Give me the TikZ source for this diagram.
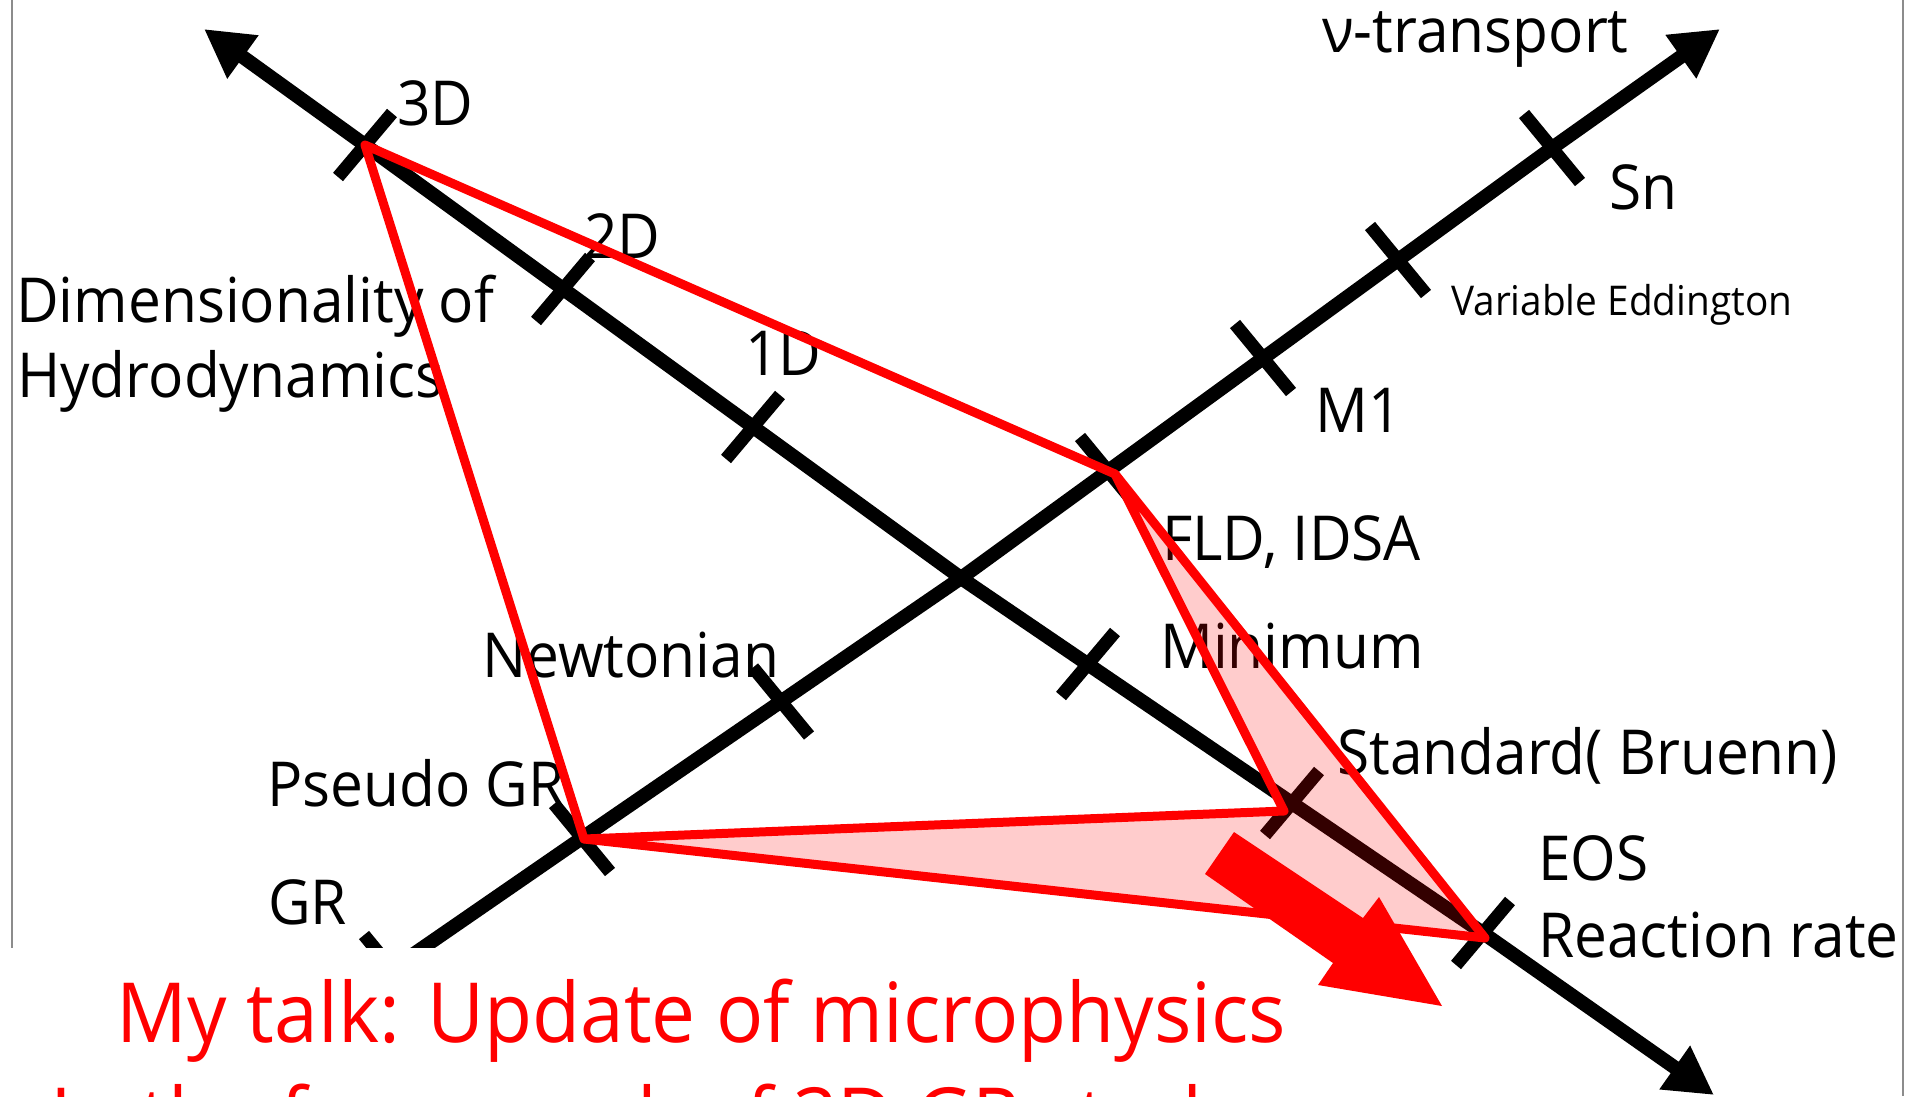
\documentclass[tikz,border=0pt]{standalone}
\usepackage{fontspec}
\setmainfont[FakeStretch=0.945]{Open Sans}
\usetikzlibrary{arrows.meta,calc}
\begin{document}
\begin{tikzpicture}[x=1pt,y=-1pt,
  axisline/.style={line width=14pt,line join=round},
  tipA/.style={-{Triangle[length=48pt,width=50pt]}},
  tipB/.style={{Triangle[length=48pt,width=50pt]}-{Triangle[length=48pt,width=50pt]}},
  tickmark/.style={line width=13pt},
  lab/.style={anchor=base west,inner sep=0pt,font=\fontsize{62}{74}\selectfont},
  smalllab/.style={anchor=base west,inner sep=0pt,font=\fontsize{41}{49}\selectfont},
  redlab/.style={anchor=base west,inner sep=0pt,text=red,font=\fontsize{83}{100}\selectfont},
  redline/.style={draw=red,line width=9pt,line join=round,line cap=round},
  pinkfill/.style={fill=red,fill opacity=0.2},
  border/.style={draw=black!45,line width=2pt}]
\useasboundingbox[fill=white] (0,0) rectangle (1907,1096);

% frame lines
\coordinate (bl1) at (12,0);   \coordinate (bl2) at (12,1096);
\coordinate (br1) at (1903,0); \coordinate (br2) at (1903,1096);
\draw[border] (bl1) -- (bl2);
\draw[border] (br1) -- (br2);

% axes
\coordinate (ctr) at (961,578);
\coordinate (a1s) at (204,29);
\coordinate (a1p) at (365,145);
\coordinate (a1q) at (1483,933);
\coordinate (a1e) at (1714,1095);
\coordinate (a2s) at (250,1067);
\coordinate (a2p) at (582,838);
\coordinate (a2q) at (1552,148);
\coordinate (a2e) at (1720,29);
\draw[axisline,tipB] (a1s) -- (a1p) -- (ctr) -- (a1q) -- (a1e);
\draw[axisline,tipA] (a2s) -- (a2p) -- (ctr) -- (a2q) -- (a2e);

% tick centres, axis 1
\coordinate (t3D) at (365,145);
\coordinate (t2D) at (563,289);
\coordinate (t1D) at (753,427);
\coordinate (tMin) at (1088,664);
\coordinate (tStd) at (1292,803);
\coordinate (tEOS) at (1483,933);
% tick centres, axis 2
\coordinate (tSn) at (1552,148);
\coordinate (tVE) at (1398,260);
\coordinate (tM1) at (1263,358);
\coordinate (tFLD) at (1108,471);
\coordinate (tNew) at (781,701.5);
\coordinate (tPGR) at (582,838);
\coordinate (tGR) at (392,969);

\foreach \c in {t3D,t2D,t1D,tMin,tStd,tEOS}
  \draw[tickmark] ($(\c)+(-27,32)$) -- ($(\c)+(27,-32)$);
\foreach \c in {tSn,tVE,tM1,tFLD,tNew,tPGR,tGR}
  \draw[tickmark] ($(\c)+(-28,-34)$) -- ($(\c)+(28,34)$);

% labels
\node[lab] (lnu) at (1322,52) {ν-transport};
\node[lab] (l3D) at (397,125) {3D};
\node[lab] (l2D) at (584,258) {2D};
\node[lab] (l1D) at (745,375) {1D};
\node[lab] (ldim1) at (16,322) {Dimensionality of};
\node[lab] (ldim2) at (17,397) {Hydrodynamics};
\node[lab] (lnew) at (482,677) {Newtonian};
\node[lab] (lpgr) at (267,806) {Pseudo GR};
\node[lab] (lgr) at (268,924) {GR};
\node[lab] (lfld) at (1162,560) {FLD, IDSA};
\node[lab] (lmin) at (1160,668) {Minimum};
\node[lab] (lstd) at (1337,774) {Standard( Bruenn)};
\node[lab] (leos) at (1538,880) {EOS};
\node[lab] (lrr) at (1538,957) {Reaction rate};
\node[lab] (lsn) at (1609,209) {Sn};
\node[smalllab] (lve) at (1451,315) {Variable Eddington};
\node[lab] (lm1) at (1315,432) {M1};

% red region
\coordinate (r3D) at (365,145);
\coordinate (rFLD) at (1115,474);
\coordinate (rPGR) at (584,839);
\coordinate (rStd) at (1284,811);
\coordinate (rEOS) at (1485,938);
\fill[pinkfill] (rPGR) -- (rStd) -- (rFLD) -- (rEOS) -- cycle;
\draw[redline] (rPGR) -- (rStd) -- (rFLD) -- (rEOS) -- cycle;
\draw[redline] (rFLD) -- (r3D) -- (rPGR);

% white text box
\fill[white] (0,948) rectangle (1420,1096);
\node[redlab] (talk1) at (116,1042) {My talk: Update of microphysics};
\node[redlab] (talk2) at (50,1147) {In the framework of 3D GR study};

% big red arrow
\fill[red] (1234,832) -- (1363,918) -- (1379,897) -- (1442,1006)
  -- (1318,985) -- (1333,963) -- (1205,874) -- cycle;
\end{tikzpicture}
\end{document}
